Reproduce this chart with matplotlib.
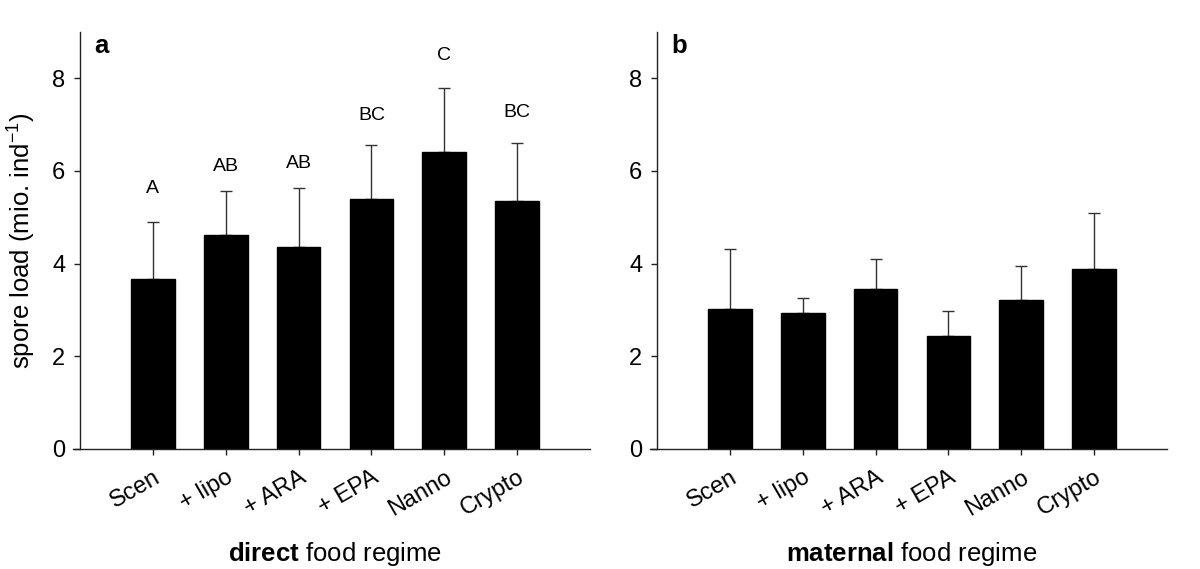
import numpy as np
import matplotlib
matplotlib.use("Agg")
import matplotlib.pyplot as plt

plt.rcParams['font.family'] = ['Liberation Sans', 'DejaVu Sans']
plt.rcParams['mathtext.fontset'] = 'custom'
plt.rcParams['mathtext.rm'] = 'Liberation Sans'
plt.rcParams['mathtext.bf'] = 'Liberation Sans:bold'

#food treatments (same for both panels)
treatments = ["Scen", "+ lipo", "+ ARA", "+ EPA", "Nanno", "Crypto"]

#panel a - direct food regime
direct_mean = [3.66, 4.62, 4.37, 5.39, 6.41, 5.36]
direct_err = [1.23, 0.95, 1.27, 1.18, 1.39, 1.24]
direct_letters = ["A", "AB", "AB", "BC", "C", "BC"]
direct_letter_y = [5.63, 6.10, 6.17, 7.20, 8.49, 7.26]

#panel b - maternal food regime
maternal_mean = [3.02, 2.93, 3.45, 2.44, 3.21, 3.88]
maternal_err = [1.29, 0.32, 0.65, 0.53, 0.73, 1.22]

fig = plt.figure(figsize=(12, 5.69), dpi=100)
ax_a = fig.add_axes([0.0667, 0.2109, 0.425, 0.7329])
ax_b = fig.add_axes([0.5475, 0.2109, 0.425, 0.7329])

def draw_panel(ax, means, errs, panel, regime):
    x = np.arange(len(treatments))
    ax.bar(x, means, width=0.6, color="black", edgecolor="black", zorder=2)
    ax.errorbar(x, means, yerr=[np.zeros(len(errs)), errs], fmt="none",
                ecolor="#333333", elinewidth=1, capsize=4.5, capthick=1, zorder=1)
    ax.set_xlim(-1, 6)
    ax.set_ylim(0, 9)
    ax.set_yticks([0, 2, 4, 6, 8])
    ax.set_xticks(x)
    ax.set_xticklabels(treatments, rotation=30, ha="right", rotation_mode="anchor")
    ax.tick_params(axis="both", direction="out", length=4.5, width=1,
                   labelsize=17, colors="#222222", labelcolor="black")
    ax.tick_params(axis="x", pad=8)
    ax.tick_params(axis="y", pad=6)
    for s in ["top", "right"]:
        ax.spines[s].set_visible(False)
    for s in ["left", "bottom"]:
        ax.spines[s].set_color("#222222")
        ax.spines[s].set_linewidth(1)
    ax.spines["bottom"].set_bounds(-1.096, 6)
    ax.text(0.028, 0.995, panel, transform=ax.transAxes, fontsize=18.5,
            fontweight="bold", va="top", ha="left")
    ax.set_xlabel(r"$\bf{" + regime + "}$ food regime", fontsize=18.5, va="center")
    ax.xaxis.set_label_coords(0.5, -0.252)

draw_panel(ax_a, direct_mean, direct_err, "a", "direct")
draw_panel(ax_b, maternal_mean, maternal_err, "b", "maternal")

for i, lab in enumerate(direct_letters):
    ax_a.text(i, direct_letter_y[i], lab, ha="center", va="center", fontsize=14)

ax_a.set_ylabel(r"spore load (mio. ind$^{-1}$)", fontsize=18.5, labelpad=11)

plt.savefig("out.png", dpi=100)
